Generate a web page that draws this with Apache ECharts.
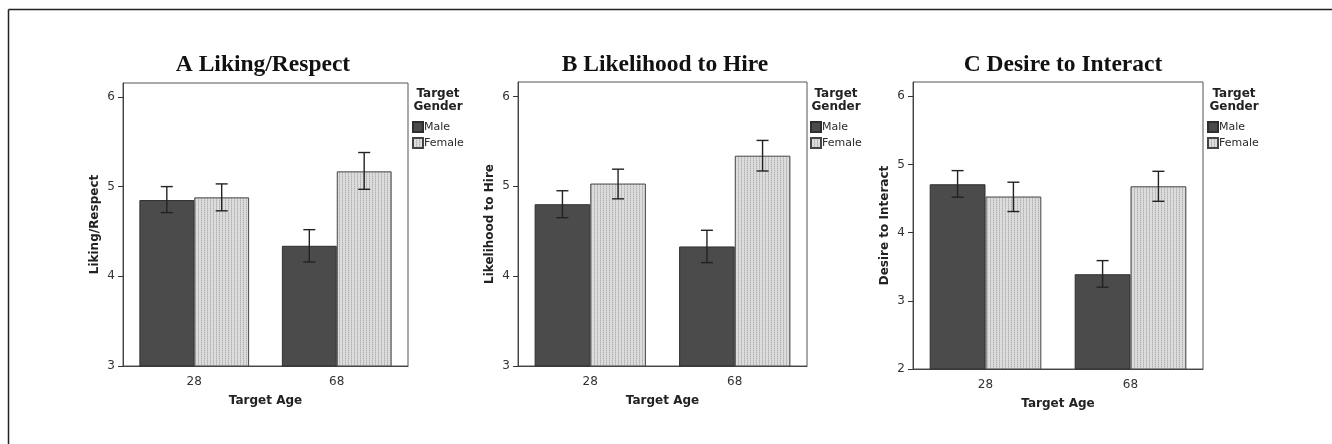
<!DOCTYPE html>
<html>
<head>
<meta charset="utf-8">
<script src="https://cdn.jsdelivr.net/npm/echarts@6/dist/echarts.min.js"></script>
<style>
  html, body { margin: 0; padding: 0; background: #fff; }
  #chart { width: 1332px; height: 444px; }
</style>
</head>
<body>
<div id="chart"></div>
<script>
// Target age categories and legend entries
const ages = ['28', '68'];
const genders = ['Male', 'Female'];

// Panel titles and y-axis names
const titles = ['A Liking/Respect', 'B Likelihood to Hire', 'C Desire to Interact'];
const yNames = ['Liking/Respect', 'Likelihood to Hire', 'Desire to Interact'];

// Mean ratings (by age: 28, 68)
const likingMale = [4.85, 4.34];
const likingFemale = [4.88, 5.17];
const hireMale = [4.80, 4.33];
const hireFemale = [5.03, 5.34];
const interactMale = [4.71, 3.39];
const interactFemale = [4.53, 4.68];

// Error bar ranges [low, high] (by age: 28, 68)
const likingMaleErr = [[4.71, 5.00], [4.16, 4.52]];
const likingFemaleErr = [[4.73, 5.03], [4.97, 5.38]];
const hireMaleErr = [[4.65, 4.95], [4.15, 4.51]];
const hireFemaleErr = [[4.86, 5.19], [5.17, 5.51]];
const interactMaleErr = [[4.52, 4.91], [3.20, 3.59]];
const interactFemaleErr = [[4.31, 4.74], [4.46, 4.90]];

// Y tick labels per panel
const yTicksA = [3, 4, 5, 6];
const yTicksB = [3, 4, 5, 6];
const yTicksC = [2, 3, 4, 5, 6];

const panels = [
  { male: likingMale, female: likingFemale, maleErr: likingMaleErr, femaleErr: likingFemaleErr, ticks: yTicksA, min: 3, max: 6.155 },
  { male: hireMale, female: hireFemale, maleErr: hireMaleErr, femaleErr: hireFemaleErr, ticks: yTicksB, min: 3, max: 6.16 },
  { male: interactMale, female: interactFemale, maleErr: interactMaleErr, femaleErr: interactFemaleErr, ticks: yTicksC, min: 2, max: 6.21 }
];

// Layout of the three plot frames
const frames = [
  { left: 123, right: 408, top: 83, bottom: 366 },
  { left: 518, right: 807, top: 82, bottom: 366 },
  { left: 913, right: 1203, top: 82, bottom: 369 }
];
const titleCenters = [258, 660, 1058];
const legendLeft = [412, 810, 1207];
const headCenters = [438, 836, 1234];

const CAT_GAP = 0.23;
const MALE_COLOR = '#4b4b4b';
const BORDER = '#2e2e2e';
const SANS = '"DejaVu Sans", sans-serif';

// fine dotted texture for the light bars
function makePattern() {
  const c = document.createElement('canvas');
  c.width = 3; c.height = 2;
  const ctx = c.getContext('2d');
  ctx.fillStyle = '#dcdcdc';
  ctx.fillRect(0, 0, 3, 2);
  ctx.fillStyle = '#b2b2b2';
  ctx.fillRect(0, 0, 1, 1);
  ctx.fillStyle = '#c6c6c6';
  ctx.fillRect(0, 1, 1, 1);
  return c;
}
const femaleFill = { image: makePattern(), repeat: 'repeat' };

function errorRender(params, api) {
  const cat = api.value(0);
  const lo = api.coord([cat, api.value(1)]);
  const hi = api.coord([cat, api.value(2)]);
  const band = api.size([1, 0])[0];
  const bw = band * (1 - CAT_GAP) / 2;
  const x = lo[0] + (api.value(3) === 0 ? -1 : 1) * bw / 2;
  const cap = 6;
  const style = { stroke: '#222', lineWidth: 1.4 };
  return {
    type: 'group',
    children: [
      { type: 'line', shape: { x1: x, y1: lo[1], x2: x, y2: hi[1] }, style },
      { type: 'line', shape: { x1: x - cap, y1: lo[1], x2: x + cap, y2: lo[1] }, style },
      { type: 'line', shape: { x1: x - cap, y1: hi[1], x2: x + cap, y2: hi[1] }, style }
    ]
  };
}

const grid = [], xAxis = [], yAxis = [], series = [], title = [], legend = [], graphic = [];

panels.forEach((p, i) => {
  const f = frames[i];
  grid.push({
    left: f.left, top: f.top, width: f.right - f.left, height: f.bottom - f.top,
    show: true, borderColor: '#555', borderWidth: 1, backgroundColor: 'transparent'
  });
  xAxis.push({
    type: 'category', gridIndex: i, data: ages,
    name: 'Target Age', nameLocation: 'middle', nameGap: 29,
    nameTextStyle: { fontFamily: SANS, fontWeight: 'bold', fontSize: 12, color: '#222' },
    axisLine: { lineStyle: { color: '#444' } },
    axisTick: { alignWithLabel: true, length: 6, lineStyle: { color: '#333' } },
    axisLabel: { fontFamily: SANS, fontSize: 12, color: '#333', margin: 10 }
  });
  yAxis.push({
    type: 'value', gridIndex: i, min: p.min, max: p.max,
    name: yNames[i], nameLocation: 'middle', nameGap: 22,
    nameTextStyle: { fontFamily: SANS, fontWeight: 'bold', fontSize: 12, color: '#222' },
    axisLine: { show: true, lineStyle: { color: '#444' } },
    axisTick: { show: true, length: 5, customValues: p.ticks, lineStyle: { color: '#333' } },
    axisLabel: { fontFamily: SANS, fontSize: 12, color: '#333', margin: 8, customValues: p.ticks },
    splitLine: { show: false }
  });
  series.push({
    name: 'Male', type: 'bar', xAxisIndex: i, yAxisIndex: i, data: p.male,
    barGap: '0%', barCategoryGap: (CAT_GAP * 100) + '%',
    itemStyle: { color: MALE_COLOR, borderColor: BORDER, borderWidth: 1 }
  });
  series.push({
    name: 'Female', type: 'bar', xAxisIndex: i, yAxisIndex: i, data: p.female,
    barGap: '0%', barCategoryGap: (CAT_GAP * 100) + '%',
    itemStyle: { color: femaleFill, borderColor: '#444', borderWidth: 1 }
  });
  const errData = [];
  p.maleErr.forEach((e, k) => errData.push([k, e[0], e[1], 0]));
  p.femaleErr.forEach((e, k) => errData.push([k, e[0], e[1], 1]));
  series.push({
    type: 'custom', xAxisIndex: i, yAxisIndex: i, data: errData,
    encode: { x: 0, y: [1, 2] }, renderItem: errorRender, z: 5, silent: true
  });
  title.push({
    text: titles[i], left: titleCenters[i], top: 48, textAlign: 'center',
    textStyle: { fontFamily: '"Liberation Serif", "Times New Roman", serif', fontWeight: 'bold', fontSize: 23.5, color: '#111' }
  });
  legend.push({
    data: genders, orient: 'vertical', left: legendLeft[i], top: 121,
    itemWidth: 10, itemHeight: 10, itemGap: 4, padding: 0, selectedMode: false,
    icon: 'rect',
    textStyle: { fontFamily: SANS, fontSize: 11, color: '#2a2a2a', padding: [0, 0, 0, -4] }
  });
  graphic.push({
    type: 'text', x: headCenters[i], y: 88,
    style: {
      text: 'Target\nGender', align: 'center', verticalAlign: 'top',
      font: 'bold 12px "DejaVu Sans", sans-serif', fill: '#222', lineHeight: 12.5
    }
  });
});

// outer figure rule along the top and left edges
graphic.push({ type: 'line', shape: { x1: 8.5, y1: 9.5, x2: 1332, y2: 9.5 }, style: { stroke: '#222', lineWidth: 1.5 } });
graphic.push({ type: 'line', shape: { x1: 8.5, y1: 9.5, x2: 8.5, y2: 444 }, style: { stroke: '#222', lineWidth: 1.5 } });

const chart = echarts.init(document.getElementById('chart'), null, { renderer: 'canvas' });
chart.setOption({
  animation: false,
  backgroundColor: '#fff',
  title, legend, grid, xAxis, yAxis, series, graphic
});
</script>
</body>
</html>
